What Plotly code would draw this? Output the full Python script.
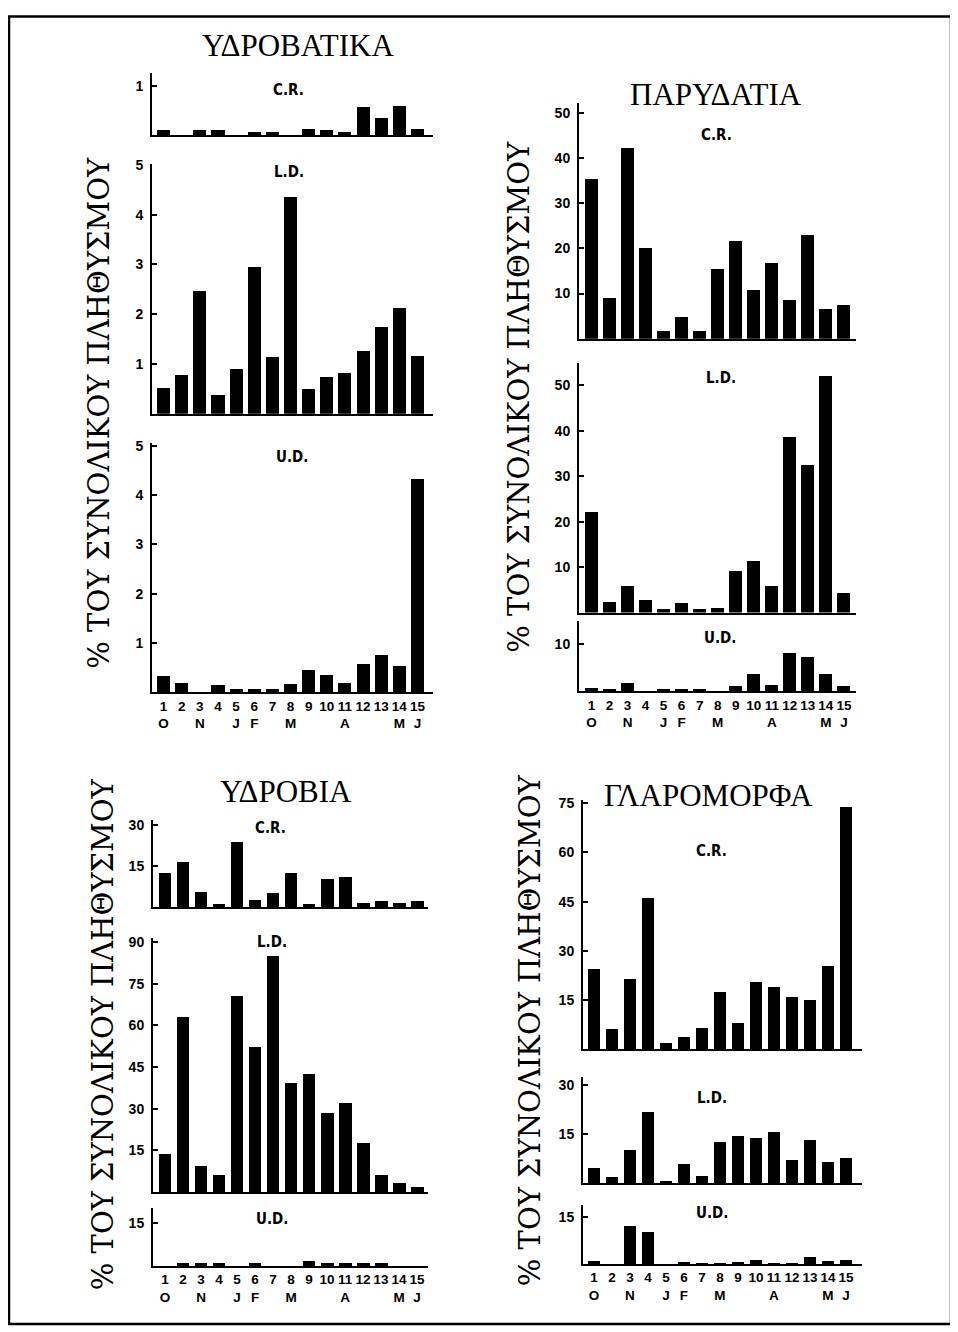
import plotly.graph_objects as go

# offset / scale of the plot inside the photographed page
OX, OY, SY = 8, 14, 0.9955
W, H = 950, 1318

stations = list(range(1, 16))
months = ["O", "", "N", "", "J", "F", "", "M", "", "", "A", "", "", "M", "J"]
panel_names = ["C.R.", "L.D.", "U.D."]
y_label = "% ΤΟΥ ΣΥΝΟΛΙΚΟΥ ΠΛΗΘΥΣΜΟΥ"

# ΥΔΡΟΒΑΤΙΚΑ
hyd_cr = [0.10, 0, 0.10, 0.10, 0, 0.06, 0.06, 0, 0.12, 0.10, 0.07, 0.57, 0.34, 0.59, 0.12]
hyd_ld = [0.51, 0.78, 2.47, 0.37, 0.90, 2.96, 1.14, 4.35, 0.50, 0.74, 0.82, 1.26, 1.75, 2.12, 1.16]
hyd_ud = [0.34, 0.19, 0, 0.15, 0.07, 0.07, 0.07, 0.18, 0.46, 0.36, 0.20, 0.59, 0.76, 0.54, 4.34]
# ΠΑΡΥΔΑΤΙΑ
par_cr = [35.3, 9.0, 42.3, 20.0, 1.7, 4.8, 1.8, 15.4, 21.7, 10.8, 16.7, 8.5, 23.0, 6.6, 7.5]
par_ld = [22.1, 2.3, 5.8, 2.9, 0.9, 2.1, 0.9, 1.1, 9.3, 11.4, 6.0, 38.6, 32.5, 52.2, 4.4]
par_ud = [0.8, 0.6, 1.9, 0.1, 0.6, 0.6, 0.6, 0.1, 1.3, 3.8, 1.4, 8.2, 7.5, 3.8, 1.3]
# ΥΔΡΟΒΙΑ
hb_cr = [12.3, 16.6, 5.3, 1.2, 23.8, 2.4, 5.1, 12.3, 1.1, 10.2, 11.1, 1.5, 2.1, 1.5, 2.1]
hb_ld = [13.6, 63.0, 9.2, 6.2, 70.6, 52.2, 84.9, 39.3, 42.3, 28.4, 31.8, 17.6, 6.0, 3.0, 1.8]
hb_ud = [0, 0.9, 0.9, 0.9, 0, 1.2, 0, 0, 1.8, 0.9, 0.9, 0.9, 0.9, 0, 0]
# ΓΛΑΡΟΜΟΡΦΑ
gl_cr = [24.4, 6.1, 21.4, 46.1, 1.8, 3.6, 6.4, 17.4, 7.9, 20.3, 18.8, 15.7, 14.8, 25.3, 73.8]
gl_ld = [4.5, 1.8, 10.0, 21.7, 0.7, 5.9, 2.2, 12.4, 14.5, 13.7, 15.6, 6.9, 13.1, 6.3, 7.7]
gl_ud = [0.9, 0, 12.0, 10.2, 0, 0.4, 0.2, 0.2, 0.4, 1.3, 0.2, 0.2, 2.3, 0.8, 1.3]

hyd_ticks = [[1], [1, 2, 3, 4, 5], [1, 2, 3, 4, 5]]
par_ticks = [[10, 20, 30, 40, 50], [10, 20, 30, 40, 50], [10]]
hb_ticks = [[15, 30], [15, 30, 45, 60, 75, 90], [15]]
gl_ticks = [[15, 30, 45, 60, 75], [15, 30], [15]]


def fx(px):
    return (px - OX) / W


def fy(px):
    return 1 - ((px - OY) / SY) / H


groups = [
    dict(title="ΥΔΡΟΒΑΤΙΚΑ", txy=(298, 45), xdom=(152, 433), xr=(0.36, 15.86), lab=(99, 412),
         data=[hyd_cr, hyd_ld, hyd_ud], ticks=hyd_ticks,
         geo=[(72, 134, 1.265), (163, 413, 5.02), (442, 692, 5.06)],
         pl=[(288, 89), (289, 171), (292, 456)]),
    dict(title="ΠΑΡΥΔΑΤΙΑ", txy=(716, 94), xdom=(579, 856), xr=(0.31, 15.67), lab=(519, 396),
         data=[par_cr, par_ld, par_ud], ticks=par_ticks,
         geo=[(102, 338, 52.2), (362, 612, 55.0), (620, 691, 15.1)],
         pl=[(716, 134), (721, 377), (720, 638)]),
    dict(title="ΥΔΡΟΒΙΑ", txy=(286, 791), xdom=(153, 428), xr=(0.333, 15.61), lab=(103, 1034),
         data=[hb_cr, hb_ld, hb_ud], ticks=hb_ticks,
         geo=[(820, 907, 31.8), (938, 1192, 91.4), (1208, 1266, 20.2)],
         pl=[(270, 828), (272, 942), (272, 1219)]),
    dict(title="ΓΛΑΡΟΜΟΡΦΑ", txy=(708, 795), xdom=(583, 862), xr=(0.389, 15.89), lab=(530, 1030),
         data=[gl_cr, gl_ld, gl_ud], ticks=gl_ticks,
         geo=[(800, 1049, 75.9), (1077, 1183, 32.4), (1205, 1264, 18.8)],
         pl=[(711, 851), (712, 1098), (712, 1213)]),
]

xtick_font = dict(family="Liberation Sans", size=13.5, color="black", weight="bold")
ytick_font = dict(family="Liberation Sans", size=14, color="black", weight="bold")
fig = go.Figure()
layout = {}
annotations = []
n = 0
for g in groups:
    for i in range(3):
        n += 1
        top, base, ytop = g["geo"][i]
        xa = "xaxis" if n == 1 else f"xaxis{n}"
        ya = "yaxis" if n == 1 else f"yaxis{n}"
        xref = "x" if n == 1 else f"x{n}"
        yref = "y" if n == 1 else f"y{n}"
        fig.add_trace(go.Bar(x=stations, y=g["data"][i], xaxis=xref, yaxis=yref,
                             marker=dict(color="black", line=dict(width=0)),
                             width=0.72, showlegend=False))
        last = i == 2
        layout[xa] = dict(domain=[fx(g["xdom"][0]), fx(g["xdom"][1])], range=list(g["xr"]),
                          anchor=yref, showline=True, linecolor="black", linewidth=2,
                          showgrid=False, zeroline=False, ticks="",
                          tickmode="array", tickvals=stations,
                          ticktext=[f"{s}<br>{m}" if m else f"{s}<br> " for s, m in zip(stations, months)],
                          showticklabels=last, tickfont=xtick_font, tickangle=0)
        layout[ya] = dict(domain=[fy(base), fy(top)], range=[0, ytop], anchor=xref,
                          showline=True, linecolor="black", linewidth=2,
                          showgrid=False, zeroline=False, ticks="inside", ticklen=5,
                          tickwidth=1.5, tickcolor="black", tickmode="array",
                          tickvals=g["ticks"][i], tickfont=ytick_font, ticklabelstandoff=4)
        px, py = g["pl"][i]
        annotations.append(dict(x=fx(px), y=fy(py), xref="paper", yref="paper",
                                text=panel_names[i], showarrow=False,
                                font=dict(family="DejaVu Sans Condensed", size=15,
                                          color="black", weight="bold"),
                                xanchor="center", yanchor="middle"))
    tx, ty = g["txy"]
    annotations.append(dict(x=fx(tx), y=fy(ty), xref="paper", yref="paper", text=g["title"],
                            showarrow=False, xanchor="center", yanchor="middle",
                            font=dict(family="Liberation Serif", size=31, color="black")))
    lx, ly = g["lab"]
    annotations.append(dict(x=fx(lx), y=fy(ly), xref="paper", yref="paper", text=y_label,
                            showarrow=False, xanchor="center", yanchor="middle", textangle=-90,
                            font=dict(family="DejaVu Serif", size=29, color="black")))

fig.update_layout(**layout)
fig.update_layout(
    width=W, height=H, margin=dict(l=0, r=0, t=0, b=0),
    paper_bgcolor="white", plot_bgcolor="white", bargap=0,
    annotations=annotations,
    shapes=[dict(type="rect", xref="paper", yref="paper",
                 x0=fx(9), x1=fx(951), y0=fy(1324), y1=fy(15.5),
                 line=dict(color="black", width=2.5))],
)
fig.write_html("out.html")
